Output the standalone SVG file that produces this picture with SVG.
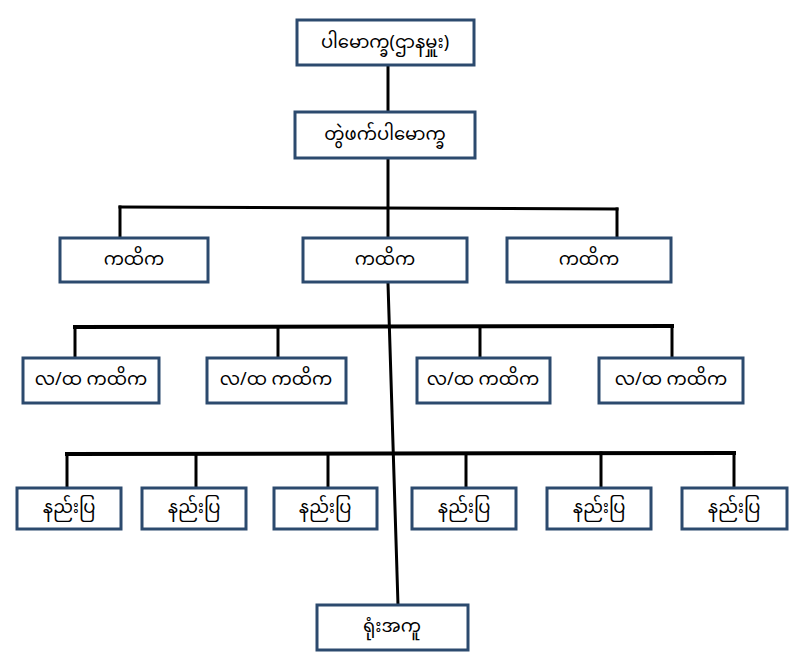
<svg xmlns="http://www.w3.org/2000/svg" width="806" height="665" viewBox="0 0 806 665">
<style>
.box{fill:#ffffff;stroke:#2c4a6e;stroke-width:3}
.ln{stroke:#000;stroke-width:3;fill:none;stroke-linecap:square}
.hl{stroke:#000;stroke-width:4;fill:none;stroke-linecap:square}
text{font-family:"Noto Sans Myanmar","Padauk","Myanmar Text","Noto Sans",sans-serif;font-size:18px;fill:#000;text-anchor:middle;dominant-baseline:central}
</style>
<rect width="806" height="665" fill="#ffffff"/>
<g id="connectors">
<line class="ln" x1="388" y1="66" x2="388" y2="112"/>
<line class="ln" x1="388" y1="158" x2="388" y2="238"/>
<line class="ln" x1="120" y1="207" x2="617" y2="209"/>
<line class="ln" x1="120" y1="207" x2="120" y2="238"/>
<line class="ln" x1="617" y1="209" x2="617" y2="238"/>
<line class="ln" x1="388" y1="283" x2="398" y2="605"/>
<line class="hl" x1="75" y1="327" x2="672" y2="326"/>
<line class="ln" x1="75" y1="327" x2="75" y2="358"/>
<line class="ln" x1="278" y1="327" x2="278" y2="358"/>
<line class="ln" x1="480" y1="327" x2="480" y2="358"/>
<line class="ln" x1="672" y1="326" x2="672" y2="358"/>
<line class="hl" x1="67" y1="454" x2="734" y2="453"/>
<line class="ln" x1="67" y1="454" x2="67" y2="488"/>
<line class="ln" x1="196" y1="454" x2="196" y2="488"/>
<line class="ln" x1="328" y1="454" x2="328" y2="488"/>
<line class="ln" x1="466" y1="454" x2="466" y2="488"/>
<line class="ln" x1="601" y1="453" x2="601" y2="488"/>
<line class="ln" x1="734" y1="453" x2="734" y2="488"/>
</g>
<g id="n-head"><rect class="box" x="297" y="20" width="177" height="45"/><text x="385" y="43">ပါမောက္ခ(ဌာနမှူး)</text></g>
<g id="n-assoc"><rect class="box" x="295" y="112" width="180" height="46"/><text x="385" y="135">တွဲဖက်ပါမောက္ခ</text></g>
<g id="n-lec1"><rect class="box" x="60" y="238" width="148" height="44"/><text x="134" y="260">ကထိက</text></g>
<g id="n-lec2"><rect class="box" x="303" y="238" width="164" height="44"/><text x="385" y="260">ကထိက</text></g>
<g id="n-lec3"><rect class="box" x="507" y="238" width="164" height="44"/><text x="589" y="260">ကထိက</text></g>
<g id="n-al1"><rect class="box" x="23" y="358" width="136" height="45"/><text x="91" y="380">လ/ထ ကထိက</text></g>
<g id="n-al2"><rect class="box" x="207" y="358" width="139" height="45"/><text x="276" y="380">လ/ထ ကထိက</text></g>
<g id="n-al3"><rect class="box" x="417" y="358" width="133" height="45"/><text x="483" y="380">လ/ထ ကထိက</text></g>
<g id="n-al4"><rect class="box" x="599" y="358" width="144" height="45"/><text x="671" y="380">လ/ထ ကထိက</text></g>
<g id="n-tut1"><rect class="box" x="17" y="488" width="104" height="41"/><text x="69" y="508">နည်းပြ</text></g>
<g id="n-tut2"><rect class="box" x="142" y="488" width="104" height="41"/><text x="194" y="508">နည်းပြ</text></g>
<g id="n-tut3"><rect class="box" x="274" y="488" width="103" height="41"/><text x="325" y="508">နည်းပြ</text></g>
<g id="n-tut4"><rect class="box" x="412" y="488" width="104" height="41"/><text x="464" y="508">နည်းပြ</text></g>
<g id="n-tut5"><rect class="box" x="547" y="488" width="104" height="41"/><text x="599" y="508">နည်းပြ</text></g>
<g id="n-tut6"><rect class="box" x="682" y="488" width="105" height="41"/><text x="734" y="508">နည်းပြ</text></g>
<g id="n-office"><rect class="box" x="317" y="605" width="151" height="45"/><text x="392" y="627">ရုံးအကူ</text></g>
</svg>
